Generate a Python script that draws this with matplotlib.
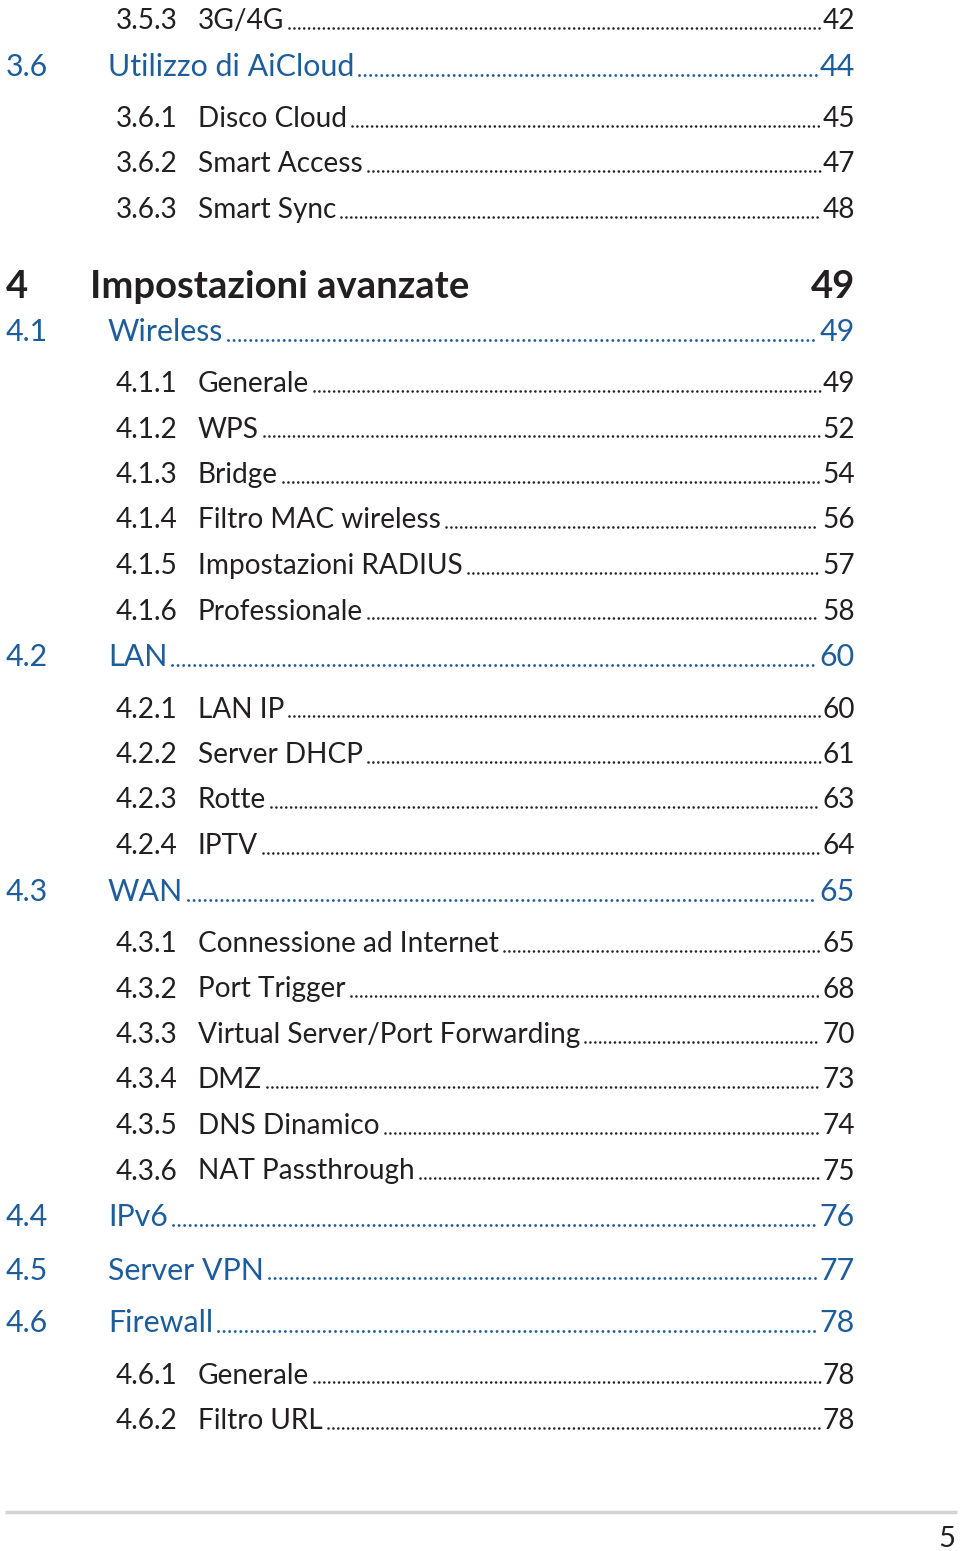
import matplotlib.pyplot as plt

# table of contents rows: 0 = chapter, 1 = section (blue), 2 = subsection
levels = [2, 1, 2, 2, 2, 0, 1, 2, 2, 2, 2, 2, 2, 1, 2, 2, 2, 2, 1,
          2, 2, 2, 2, 2, 2, 1, 1, 1, 2, 2]
numbers = ['3.5.3', '3.6', '3.6.1', '3.6.2', '3.6.3', '4', '4.1',
           '4.1.1', '4.1.2', '4.1.3', '4.1.4', '4.1.5', '4.1.6', '4.2',
           '4.2.1', '4.2.2', '4.2.3', '4.2.4', '4.3',
           '4.3.1', '4.3.2', '4.3.3', '4.3.4', '4.3.5', '4.3.6',
           '4.4', '4.5', '4.6', '4.6.1', '4.6.2']
titles = ['3G/4G', 'Utilizzo di AiCloud', 'Disco Cloud', 'Smart Access',
          'Smart Sync', 'Impostazioni avanzate', 'Wireless',
          'Generale', 'WPS', 'Bridge', 'Filtro MAC wireless',
          'Impostazioni RADIUS', 'Professionale', 'LAN',
          'LAN IP', 'Server DHCP', 'Rotte', 'IPTV', 'WAN',
          'Connessione ad Internet', 'Port Trigger',
          'Virtual Server/Port Forwarding', 'DMZ', 'DNS Dinamico',
          'NAT Passthrough', 'IPv6', 'Server VPN', 'Firewall',
          'Generale', 'Filtro URL']
pages = [42, 44, 45, 47, 48, 49, 49, 49, 52, 54, 56, 57, 58, 60,
         60, 61, 63, 64, 65, 65, 68, 70, 73, 74, 75, 76, 77, 78, 78, 78]
page_number = '5'

BLUE = '#1d5d9b'
BLACK = '#231f20'
FONT = ['Lato', 'DejaVu Sans']

# style per level: number x, title x, size, weight, colour
style = {
    0: dict(nx=6, tx=90, size=27.5, weight='bold', color=BLACK),
    1: dict(nx=6, tx=108, size=21.9, weight='normal', color=BLUE),
    2: dict(nx=116, tx=198, size=20.2, weight='normal', color=BLACK),
}
# vertical distance between baselines, by (previous level, level)
gap = {(2, 2): 45.5, (2, 1): 47, (1, 2): 51, (1, 1): 53,
       (2, 0): 79.5, (0, 1): 43.5}
right_edge = 855

fig = plt.figure(figsize=(9.6, 15.51), dpi=100)
ax = fig.add_axes([0, 0, 1, 1])
ax.set_xlim(0, 960)
ax.set_ylim(1551, 0)
ax.axis('off')
renderer = fig.canvas.get_renderer()
inv = ax.transData.inverted()

y = 29
for i, lev in enumerate(levels):
    if i > 0:
        y += gap[(levels[i - 1], lev)]
    s = style[lev]
    kw = dict(fontsize=s['size'], fontweight=s['weight'], color=s['color'],
              family=FONT, va='baseline')
    ax.text(s['nx'], y, numbers[i], ha='left', **kw)
    t = ax.text(s['tx'], y, titles[i], ha='left', **kw)
    p = ax.text(right_edge, y, str(pages[i]), ha='right', **kw)
    if lev == 0:
        continue
    # dot leader between title and page number
    x0 = inv.transform(t.get_window_extent(renderer).get_points())[1][0] + 5
    x1 = inv.transform(p.get_window_extent(renderer).get_points())[0][0] - 3
    lw = 2.1 if lev == 1 else 1.9
    ax.plot([x0, x1], [y - 1.5, y - 1.5], color=s['color'], lw=lw,
            linestyle=(0, (0.01, 1.9 if lev == 1 else 1.85)),
            dash_capstyle='round')

ax.plot([5, 957], [1512, 1512], color='#d4d4d4', lw=2.5,
        solid_capstyle='butt')
ax.text(955, 1547, page_number, ha='right', va='baseline', fontsize=21,
        color=BLACK, family=FONT)

fig.savefig('out.png', dpi=100)
